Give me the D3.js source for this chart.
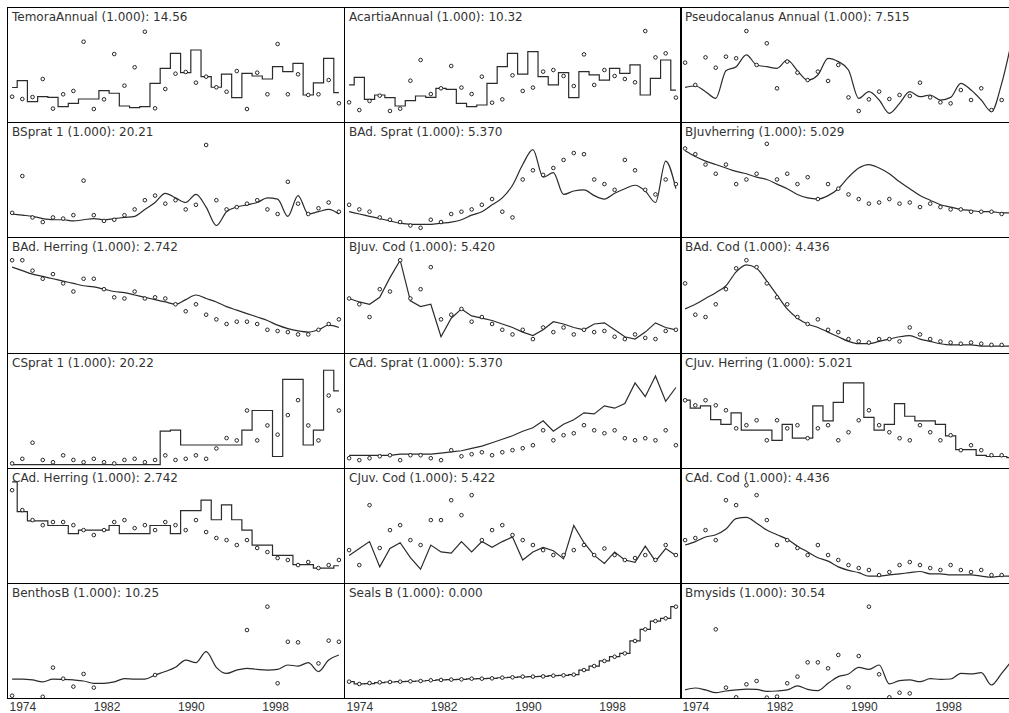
<!DOCTYPE html>
<html>
<head>
<meta charset="utf-8">
<script src="https://cdn.jsdelivr.net/npm/d3@7/dist/d3.min.js"></script>
<style>
body { margin: 0; background: #fff; }
</style>
</head>
<body>
<svg width="1009" height="713"></svg>
<script>
// years of the annual observations (one point per year)
var years = d3.range(1974, 2007)
var tickYears = [1974, 1982, 1990, 1998]

var titles = [
    'TemoraAnnual (1.000): 14.56', 'AcartiaAnnual (1.000): 10.32', 'Pseudocalanus Annual (1.000): 7.515',
    'BSprat 1 (1.000): 20.21', 'BAd. Sprat (1.000): 5.370', 'BJuvherring (1.000): 5.029',
    'BAd. Herring (1.000): 2.742', 'BJuv. Cod (1.000): 5.420', 'BAd. Cod (1.000): 4.436',
    'CSprat 1 (1.000): 20.22', 'CAd. Sprat (1.000): 5.370', 'CJuv. Herring (1.000): 5.021',
    'CAd. Herring (1.000): 2.742', 'CJuv. Cod (1.000): 5.422', 'CAd. Cod (1.000): 4.436',
    'BenthosB (1.000): 10.25', 'Seals B (1.000): 0.000', 'Bmysids (1.000): 30.54'
]

// relative biomass index, observed (points) and predicted (line)
var temoraObs = [22, 20, 21.7, 37.4, 11.6, 24.1, 27, 69.8, 11.3, 19.7, 59.1, 31.6, 47.6, 78.5, 11.9, 28.7, 42, 43.5, 34.2, 39.4, 30.2, 26.3, 44.3, 11.3, 42.9, 24.1, 67.8, 24.1, 41.5, 23.5, 24.1, 36.5, 16.3]
var temoraFit = [30, 36, 17.7, 22, 21.4, 13.3, 16.2, 20, 20, 27.2, 25, 13.9, 12.5, 13.3, 33.6, 46.7, 59.7, 42.9, 62.6, 39.4, 30.2, 41.7, 21.2, 42.3, 40, 37.4, 48.1, 43.8, 51, 23.5, 34, 55.4, 25.5]

var acartiaObs = [17.1, 10.4, 18.3, 22.9, 9.6, 11.6, 35.9, 53.9, 24.3, 29.3, 48.7, 29.9, 24.3, 39.4, 16.8, 19.7, 40.6, 27, 29.9, 43.8, 45.2, 40, 31.3, 58.8, 32.2, 45.2, 40, 37.4, 34.5, 79.1, 56.2, 59.7, 21.2]
var acartiaFit = [32.2, 38.8, 19.7, 23.5, 21.2, 13.9, 18.6, 22.6, 21.4, 29.3, 28.4, 16.2, 13.3, 14.8, 33.6, 48.1, 59.7, 41.7, 61.2, 39.4, 32.2, 42.9, 21.2, 43.8, 40.9, 36.5, 46.7, 42.3, 49.6, 23.5, 38, 53.9, 27.8]

var pseudoObs = [51.6, 32.2, 56.2, 47.2, 56.8, 55.4, 79.1, 49.6, 68.4, 29.3, 52.5, 42.9, 36.5, 43.8, 35.7, 49.6, 21.4, 9.6, 19.7, 26.4, 20, 23.5, 22.6, 34.2, 21.4, 17.1, 16.2, 27.8, 19.1, 29.3, 10.4, 19.1, null]
var pseudoFit = [30.1, 31.3, 26.4, 20.6, 44.6, 48.1, 58.3, 49.6, 48.1, 46.7, 53.9, 44.6, 36.5, 40.9, 55.4, 52.5, 45.2, 20.6, 26.4, 19.1, 7.5, 16.2, 26.4, 22, 23.5, 19.1, 21.4, 33.6, 27.8, 19.1, 9, 33.6, 71.3]

var bspratObs = [21, 53, 17, 13, 17, 16, 19, 49, 19, 14, 15, 19, 24, 32, 36, 29, 32, 24, 28, 80, 32, 24, 26, 29, 32, 24, 20, 48, 29, 20, 25, 30, 22]
var bspratFit = [20, 19, 18, 16, 15, 15, 14, 15, 16, 15, 16, 17, 18, 24, 30, 38, 34, 30, 37, 26, 10, 22, 26, 28, 30, 34, 33, 18, 36, 20, 22, 24, 20]

var badspratObs = [28, 24, 22, 17, 15, 13, 10, 8, 15, 13, 20, 22, 24, 28, 33, 22, 17, 50, 58, 54, 60, 67, 73, 72, 50, 46, 41, 67, 58, 41, 37, 50, 46]
var badspratFit = [22, 20, 18, 16, 14, 12, 11, 11, 11, 12, 13, 15, 19, 22, 28, 34, 45, 63, 76, 52, 56, 37, 40, 41, 36, 33, 38, 42, 45, 40, 30, 66, 42]

var bjuvherObs = [77, 72, 63, 55, 63, 46, 50, 55, 81, 50, 55, 46, 52, 33, 46, 42, 37, 33, 29, 30, 33, 29, 30, 26, 29, 26, 24, 24, 22, 22, 22, 20, 20]
var bjuvherFit = [75, 70, 66, 63, 60, 57, 55, 52, 50, 46, 42, 37, 34, 33, 36, 42, 52, 60, 63, 60, 55, 48, 42, 36, 32, 28, 26, 24, 23, 22, 22, 21, 21]

var badherObs = [80, 80, 71, 64, 68, 60, 53, 64, 64, 55, 48, 47, 53, 47, 48, 47, 42, 36, 42, 33, 29, 25, 27, 27, 25, 20, 19, 18, 16, 16, 20, 25, 29]
var badherFit = [74, 71, 68, 66, 64, 62, 60, 58, 57, 55, 53, 52, 50, 48, 46, 44, 42, 46, 50, 47, 44, 40, 37, 34, 31, 28, 24, 21, 19, 18, 20, 24, 22]

var bjuvcodObs = [47, 42, 31, 55, 53, 80, 47, 55, 74, 29, 33, 38, 27, 31, 25, 20, 16, 20, 12, 22, 18, 22, 16, 20, 18, 19, 14, 12, 16, 13, 12, 19, 20]
var bjuvcodFit = [47, 44, 42, 48, 65, 80, 45, 40, 42, 14, 30, 38, 32, 30, 28, 25, 22, 18, 15, 20, 27, 25, 22, 20, 25, 26, 20, 14, 12, 18, 26, 22, 20]

var badcodObs = [60, 33, 31, 42, 55, 73, 80, 74, 60, 48, 42, 31, 25, 29, 20, 18, 12, 10, 9, 12, 12, 10, 22, 16, 12, 10, 9, 8, 9, 8, 7, 7, 7]
var badcodFit = [38, 42, 47, 52, 58, 70, 76, 73, 62, 50, 38, 30, 25, 22, 18, 14, 10, 8, 8, 10, 12, 14, 15, 12, 10, 8, 7, 7, 7, 6, 6, 6, 6]

var cspratObs = [4, 8, 22, 7, 5, 11, 7, 5, 8, 5, 4, 7, 8, 5, 7, 11, 7, 8, 11, 8, 17, 26, 24, 50, 24, 37, 29, 46, 59, 37, 24, 63, 50]
var cspratFit = [3, 3, 3, 3, 3, 3, 3, 3, 3, 3, 3, 3, 3, 3, 3, 32, 33, 20, 20, 20, 20, 20, 20, 33, 50, 50, 10, 77, 77, 20, 33, 85, 67]

var cadspratObs = [8.5, 6.8, 8.5, 10.2, 11.1, 6.8, 11.1, 11.1, 8.5, 6.8, 15.5, 10.2, 12, 13.7, 11.1, 13.7, 15.5, 17.2, 19.8, 32.8, 24.1, 28.5, 30.2, 37.2, 32.8, 30.2, 32.8, 25.9, 24.1, 25.9, 24.1, 32.8, 19.8]
var cadspratFit = [11, 11, 11, 11, 11, 12, 12, 12, 12, 13, 14, 15, 17, 19, 22, 25, 28, 32, 35, 41, 32, 38, 42, 48, 47, 54, 52, 56, 74, 62, 80, 58, 70]

var cjuvherObs = [58.9, 54.5, 58.9, 54.5, 50.2, 34.5, 37.2, 41.5, 24.1, 41.5, 34.5, 37.2, 25.9, 34.5, 37.2, 24.1, 31.1, 41.5, 50.2, 37.2, 31.1, 25.9, 24.1, 37.2, 31.1, 24.1, 28.5, 15.5, 19.8, 15.5, 11.1, 11.1, 11.1]
var cjuvherFit = [59, 52, 54, 42, 38, 48, 33, 33, 33, 24, 38, 26, 26, 54, 41, 57, 74, 74, 44, 33, 38, 56, 45, 41, 41, 38, 28, 16, 16, 11, 10, 10, 9]

var cadherObs = [80.7, 63.4, 54.7, 50.3, 53, 53, 50.3, 46, 41.7, 46, 53, 54.7, 47.7, 50.3, 46, 53, 50.3, 46, 54.7, 44.3, 39.1, 37.3, 33, 37.3, 30.4, 26.9, 21.7, 20, 15.6, 18.2, 13, 15.6, 20]
var cadherFit = [88, 62, 54, 54, 50, 50, 43, 46, 46, 46, 50, 43, 43, 43, 50, 50, 43, 63, 63, 72, 55, 68, 55, 46, 33, 33, 24, 24, 16, 16, 13, 13, 15]

var cjuvcodObs = [28.6, 15.6, 67.7, 30.4, 46, 50.3, 37.3, 33, 54.7, 54.7, 72, 59, 76.4, 37.3, 46, 50.3, 41.7, 37.3, 33, 28.6, 24.3, 24.3, 28.6, 33, 24.3, 30, 24.3, 20, 21.7, 24.3, 20, 33, 24.3]
var cjuvcodFit = [24, 30, 36, 14, 30, 35, 22, 12, 33, 27, 26, 36, 27, 36, 31, 36, 40, 20, 27, 31, 28, 21, 50, 35, 24, 17, 27, 20, 18, 32, 19, 30, 24]

var cadcodObs = [37.3, 39.1, 46, 37.3, 72, 67.7, 85, 76.4, 54.7, 33, 37.3, 30.4, 24.3, 33, 24.3, 20, 15.6, 13, 11.3, 6.9, 9.5, 15.6, 18.2, 15.6, 13, 11.3, 15.6, 11.3, 9.5, 11.3, 6.9, 6.9, 6.9]
var cadcodFit = [33, 36, 40, 42, 47, 56, 57, 52, 46, 42, 38, 32, 27, 22, 19, 14, 11, 9, 6, 6, 7, 8, 9, 10, 8, 8, 7, 7, 7, 6, 5, 6, 6]

var benthosObs = [2, null, null, 1.1, 26.4, 16.8, 9.9, 20.9, 9, null, null, null, null, null, 20, null, null, null, null, null, null, null, null, 59.1, null, 79.4, 12.8, 48.9, 48.4, null, 30.1, 49.9, 48.9]
var benthosFit = [16.5, 16.5, 15.7, 14, 16.5, 16.2, 15.7, 14.8, 12.8, 12.8, 14, 16.8, 16.5, 16.5, 20, 23, 26.7, 33, 30.7, 40.3, 26.7, 21.4, 24.3, 25.8, 24.9, 24.3, 24.9, 28.7, 27.8, 30.7, 23, 33, 37.4]

var sealsObs = [14.2, 12.2, 13, 13.6, 13.9, 14.2, 14.5, 14.8, 15.4, 15.7, 16, 16.2, 16.8, 16.8, 17.1, 17.7, 18, 18.6, 18.6, 18.8, 19.4, 19.7, 20.3, 24.3, 27.8, 32.2, 35.9, 38.8, 49.6, 59.7, 66.9, 69.3, 79.4]
var sealsFit = [14.2, 12.2, 12.5, 13.4, 13.9, 14.2, 14.5, 14.8, 15.2, 15.7, 16, 16.2, 16.6, 16.8, 17.1, 17.6, 18, 18.4, 18.6, 18.8, 19.4, 19.7, 20.3, 24.3, 27.8, 32.2, 35.9, 38.8, 49.6, 59.7, 66.9, 69.3, 79.4]

var mysidsObs = [null, null, null, 59.7, 9, 0.6, 11.9, 14.8, 0.3, 1.2, 12.8, 18.6, 31, 31, 25.8, 37.4, 9.3, 36.5, 79.4, 20.6, 0.6, 4.6, 4, null, null, null, null, null, null, null, null, null, null]
var mysidsFit = [7, 8.7, 7, 4.6, 6.1, 7, 7.8, 7.5, 5.8, 6.1, 7, 10.6, 7.5, 6.4, 12.8, 18.6, 20.9, 26.7, 24.9, 28.7, 12.2, 15.1, 15.7, 14.2, 16.8, 16.2, 16.5, 21.4, 20.9, 22, 11.3, 21.4, 32.5]

var obsList = [temoraObs, acartiaObs, pseudoObs, bspratObs, badspratObs, bjuvherObs, badherObs, bjuvcodObs, badcodObs,
    cspratObs, cadspratObs, cjuvherObs, cadherObs, cjuvcodObs, cadcodObs, benthosObs, sealsObs, mysidsObs]
var fitList = [temoraFit, acartiaFit, pseudoFit, bspratFit, badspratFit, bjuvherFit, badherFit, bjuvcodFit, badcodFit,
    cspratFit, cadspratFit, cjuvherFit, cadherFit, cjuvcodFit, cadcodFit, benthosFit, sealsFit, mysidsFit]
// panels whose fitted line moves in yearly steps, and ones drawn with straight segments
var stepped = ['TemoraAnnual', 'AcartiaAnnual', 'CSprat 1', 'CJuv. Herring', 'CAd. Herring', 'Seals B']
var jagged = ['BJuv. Cod', 'CJuv. Cod', 'CAd. Sprat']

var svg = d3.select('svg')
svg.append('rect').attr('width', 1009).attr('height', 713).style('fill', '#fff')

var colLeft = [7, 344, 680],
    panelW = 337,
    rowTops = d3.range(7).map(i => Math.round(7 + i * 115.2))

var xScale = d3.scaleLinear()
    .domain([1974, 2007])
    .range([0, panelW])

titles.forEach((title, i) => {
    var c = i % 3, r = Math.floor(i / 3)
    var h = rowTops[r + 1] - rowTops[r]
    var yScale = d3.scaleLinear().domain([0, 100]).range([h, 0])
    var g = svg.append('g')
        .attr('transform', 'translate(' + colLeft[c] + ',' + rowTops[r] + ')')

    g.append('clipPath').attr('id', 'clip' + i)
        .append('rect').attr('width', panelW).attr('height', h)
    var inner = g.append('g').attr('clip-path', 'url(#clip' + i + ')')

    var isStep = stepped.some(s => title.indexOf(s) == 0)
    var isJagged = jagged.some(s => title.indexOf(s) == 0)
    var line = d3.line()
        .x((d, k) => xScale(years[k] + 0.5))
        .y(d => yScale(d))
        .curve(isStep ? d3.curveStep : isJagged ? d3.curveLinear : d3.curveMonotoneX)

    inner.append('path')
        .datum(fitList[i])
        .attr('d', line)
        .style('fill', 'none')
        .style('stroke', '#2b2b2b')
        .style('stroke-width', 1.2)

    inner.append('g').selectAll('circle')
        .data(obsList[i].map((v, k) => ({year: years[k], v: v})).filter(d => d.v != null))
        .enter()
        .append('circle')
        .attr('cx', d => xScale(d.year + 0.5))
        .attr('cy', d => yScale(d.v))
        .attr('r', 1.8)
        .style('fill', '#fff')
        .style('stroke', '#111')
        .style('stroke-width', 0.9)

    //panel frame
    g.append('rect')
        .attr('x', 0.5).attr('y', 0.5)
        .attr('width', panelW).attr('height', h)
        .style('fill', 'none')
        .style('stroke', '#000')
        .style('stroke-width', 1)

    g.append('text')
        .attr('x', 5)
        .attr('y', 14)
        .style('font-family', 'DejaVu Sans, sans-serif')
        .style('font-size', '12px')
        .style('fill', '#333')
        .text(title)

    //year labels under the bottom row
    if (r == 5) {
        var ax = g.append('g')
            .attr('transform', 'translate(0,' + h + ')')
            .call(d3.axisBottom(xScale)
                .tickValues(tickYears.map((t, k) => 1974 + k * 33 / 4))
                .tickFormat((t, k) => tickYears[k])
                .tickSize(0)
                .tickPadding(4))
        ax.select('.domain').remove()
        ax.selectAll('text')
            .attr('text-anchor', 'start')
            .attr('dx', 2)
            .style('font-family', 'Liberation Sans, Arial, sans-serif')
            .style('font-size', '12px')
            .style('fill', '#333')
    }
})
</script>
</body>
</html>
